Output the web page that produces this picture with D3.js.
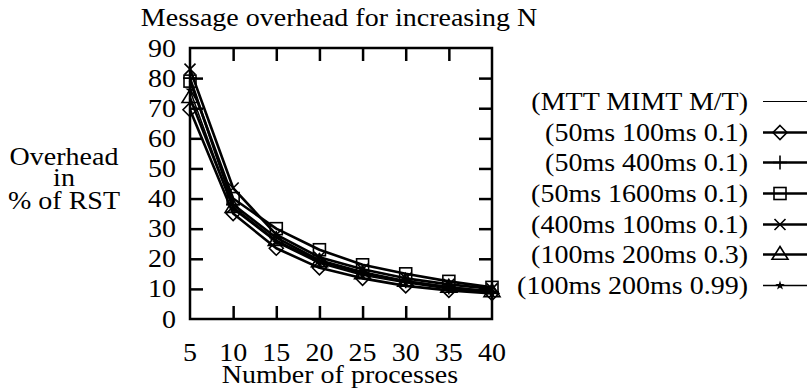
<!DOCTYPE html>
<html><head><meta charset="utf-8">
<script src="https://cdn.jsdelivr.net/npm/d3@7/dist/d3.min.js"></script>
<style>
html,body{margin:0;padding:0;background:#fff;}
</style></head>
<body><svg id="c" width="807" height="389"></svg>
<script>
const N = [5, 10, 15, 20, 25, 30, 35, 40];
const xTicks = [5, 10, 15, 20, 25, 30, 35, 40];
const yTicks = [0, 10, 20, 30, 40, 50, 60, 70, 80, 90];
const headerLabel = "(MTT MIMT M/T)";
const seriesNames = ["(50ms 100ms 0.1)", "(50ms 400ms 0.1)", "(50ms 1600ms 0.1)", "(400ms 100ms 0.1)", "(100ms 200ms 0.3)", "(100ms 200ms 0.99)"];
const seriesMarkers = ["diamond", "plus", "square", "cross", "triangle", "star"];
const s1 = [69.5, 35, 23.5, 17, 13.5, 11, 9.5, 8.5];
const s2 = [80, 38, 27, 19.5, 15.5, 12.5, 10.5, 9];
const s3 = [79, 40, 30, 23, 18, 15, 12.5, 10.5];
const s4 = [83, 43.5, 28, 20.5, 16.5, 13.5, 11.5, 10];
const s5 = [73.5, 37, 26, 19, 15, 12.5, 10.5, 9];
const s6 = [76, 36.5, 25.5, 18.5, 14.5, 12, 10, 8.5];
const seriesValues = [s1, s2, s3, s4, s5, s6];
const titleText = "Message overhead for increasing N";
const yLabelLines = ["Overhead", "in", "% of RST"];
const xLabelText = "Number of processes";

const FONT = "Liberation Serif";
const svg = d3.select("#c");
const L = 190, R = 492, T = 48, B = 319;
const x = d3.scaleLinear().domain([5, 40]).range([L, R]);
const y = d3.scaleLinear().domain([0, 90]).range([B, T]);
const FS = 25;
const KX = 1.12;

function addText(g, xx, yy, t, anchor, fs) {
  const gg = g.append("g").attr("transform", `translate(${xx},${yy}) scale(${KX},1)`);
  return gg.append("text").attr("x", 0).attr("y", 0).attr("text-anchor", anchor)
    .attr("font-size", fs || FS).attr("font-family", FONT).attr("fill", "#000").text(t);
}

addText(svg, 339, 26, titleText, "middle");

svg.append("rect").attr("x", L).attr("y", T).attr("width", R - L).attr("height", B - T)
  .attr("fill", "none").attr("stroke", "#000").attr("stroke-width", 2.5);

const tl = 13;
const axes = [
  svg.append("g").attr("transform", `translate(0,${B})`).call(d3.axisBottom(x).tickValues(xTicks).tickSize(-tl).tickFormat("")),
  svg.append("g").attr("transform", `translate(0,${T})`).call(d3.axisTop(x).tickValues(xTicks).tickSize(-tl).tickFormat("")),
  svg.append("g").attr("transform", `translate(${L},0)`).call(d3.axisLeft(y).tickValues(yTicks).tickSize(-tl).tickFormat("")),
  svg.append("g").attr("transform", `translate(${R},0)`).call(d3.axisRight(y).tickValues(yTicks).tickSize(-tl).tickFormat(""))
];
axes.forEach((g, k) => {
  g.select(".domain").remove();
  g.selectAll(".tick line").attr("stroke", "#000").attr("stroke-width", 2.5);
  g.selectAll(".tick text").remove();
  const ends = k < 2 ? [5, 40] : [0, 90];
  g.selectAll(".tick").filter(d => ends.includes(d)).select("line").remove();
});
const fmt = d3.format("d");
xTicks.forEach(v => addText(svg, x(v), B + 42, fmt(v), "middle"));
yTicks.forEach(v => addText(svg, L - 14, y(v) + 8.5, fmt(v), "end"));

addText(svg, 340, 383, xLabelText, "middle");
const yly = [165, 186, 209];
yLabelLines.forEach((t, i) => addText(svg, 64, yly[i], t, "middle"));

function marker(g, type, cx, cy) {
  const sw = 1.6;
  if (type === "diamond") {
    const r = 7;
    g.append("path").attr("d", `M${cx},${cy - r}L${cx + r},${cy}L${cx},${cy + r}L${cx - r},${cy}Z`)
      .attr("fill", "none").attr("stroke", "#000").attr("stroke-width", sw);
  } else if (type === "plus") {
    const r = 7;
    g.append("path").attr("d", `M${cx - r},${cy}H${cx + r}M${cx},${cy - r}V${cy + r}`)
      .attr("stroke", "#000").attr("stroke-width", sw);
  } else if (type === "square") {
    const r = 6;
    g.append("rect").attr("x", cx - r).attr("y", cy - r).attr("width", 2 * r).attr("height", 2 * r)
      .attr("fill", "none").attr("stroke", "#000").attr("stroke-width", sw);
  } else if (type === "cross") {
    const r = 5.5;
    g.append("path").attr("d", `M${cx - r},${cy - r}L${cx + r},${cy + r}M${cx - r},${cy + r}L${cx + r},${cy - r}`)
      .attr("stroke", "#000").attr("stroke-width", sw);
  } else if (type === "triangle") {
    const r = 8;
    g.append("path").attr("d", `M${cx},${cy - r}L${cx + r},${cy + r * 0.6}L${cx - r},${cy + r * 0.6}Z`)
      .attr("fill", "none").attr("stroke", "#000").attr("stroke-width", sw);
  } else if (type === "star") {
    const sym = d3.symbol().type(d3.symbolStar).size(28);
    g.append("path").attr("d", sym()).attr("transform", `translate(${cx},${cy})`).attr("fill", "#000");
  }
}

const line = d3.line().x((d, i) => x(N[i])).y(d => y(d));
const widths = [2.6, 2.6, 2.6, 2.6, 2.6, 1.5];
const plot = svg.append("g");
seriesValues.forEach((vals, si) => {
  plot.append("path").attr("d", line(vals)).attr("fill", "none").attr("stroke", "#000")
    .attr("stroke-width", widths[si]).attr("stroke-linejoin", "round");
});
seriesValues.forEach((vals, si) => {
  vals.forEach((v, i) => marker(plot, seriesMarkers[si], x(N[i]), y(v)));
});

const legY = d3.scaleLinear().domain([0, 6]).range([101, 285]);
const legTextX = 748, lx1 = 763, lx2 = 807, lmx = 780;
const lg = svg.append("g");
const allNames = [headerLabel].concat(seriesNames);
allNames.forEach((name, i) => {
  const cy = Math.round(legY(i)) + 0.5;
  addText(lg, legTextX, cy + 8, name, "end");
  lg.append("line").attr("x1", lx1).attr("x2", lx2).attr("y1", cy).attr("y2", cy)
    .attr("stroke", "#000").attr("stroke-width", i === 0 ? 1.2 : widths[i - 1]);
  if (i > 0) marker(lg, seriesMarkers[i - 1], lmx, cy);
});
</script></body></html>
